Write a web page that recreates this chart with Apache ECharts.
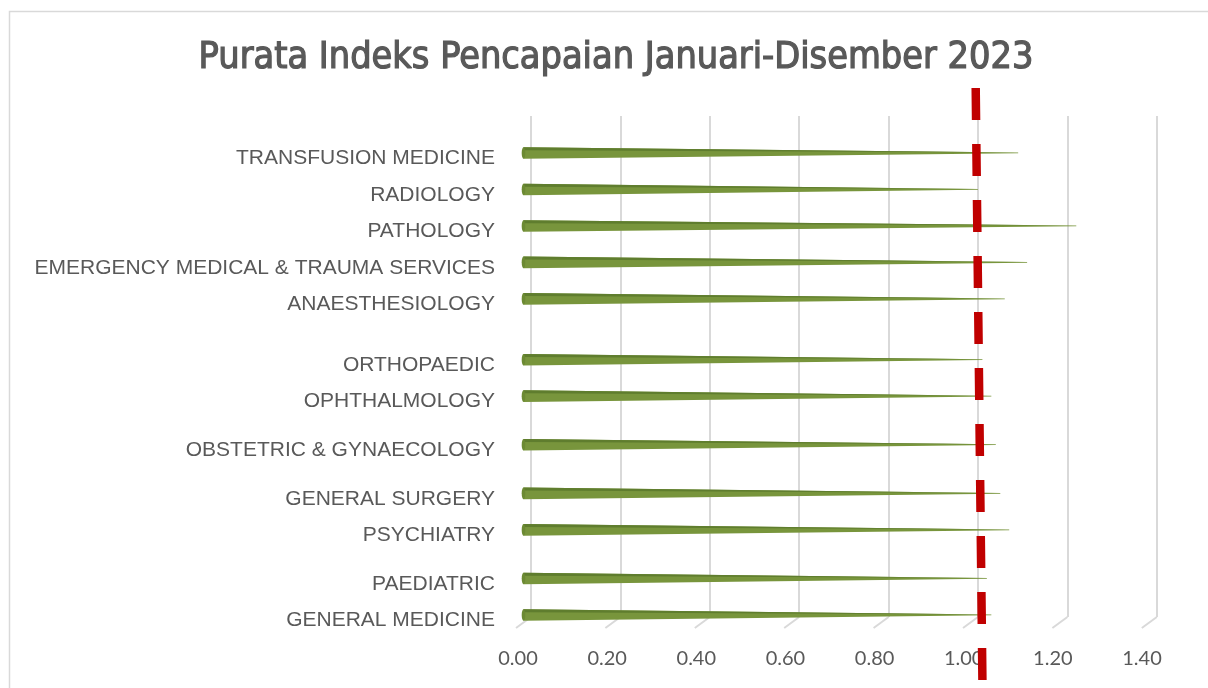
<!DOCTYPE html>
<html>
<head>
<meta charset="utf-8">
<script src="https://cdn.jsdelivr.net/npm/echarts@6/dist/echarts.min.js"></script>
<style>
  html, body { margin: 0; padding: 0; background: #fff; }
  #chart { width: 1208px; height: 688px; }
</style>
</head>
<body>
<div id="chart"></div>
<script>
// data
const categories = [
  'TRANSFUSION MEDICINE',
  'RADIOLOGY',
  'PATHOLOGY',
  'EMERGENCY MEDICAL & TRAUMA SERVICES',
  'ANAESTHESIOLOGY',
  'ORTHOPAEDIC',
  'OPHTHALMOLOGY',
  'OBSTETRIC & GYNAECOLOGY',
  'GENERAL SURGERY',
  'PSYCHIATRY',
  'PAEDIATRIC',
  'GENERAL MEDICINE'
]
const indexValues = [1.11, 1.02, 1.24, 1.13, 1.08, 1.03, 1.05, 1.06, 1.07, 1.09, 1.04, 1.05]
// red dashed target line, value at its top end and at its bottom end (3d slant)
const targetLine = [1.015, 1.03]
const axisMin = 0, axisMax = 1.4, axisStep = 0.2

// layout: spacing between rows, in small slots (the original has uneven gaps)
const rowGaps = [3, 3, 3, 3, 5, 3, 4, 4, 3, 4, 3]

const rowSlot = [0]
rowGaps.forEach((g, i) => rowSlot.push(rowSlot[i] + g))
const slotNames = new Array(rowSlot[rowSlot.length - 1] + 1).fill('')
rowSlot.forEach((s, i) => { slotNames[s] = categories[i] })

const tickValues = []
for (let v = axisMin; v <= axisMax + 1e-9; v += axisStep) tickValues.push(+v.toFixed(2))

const grey = '#595959'
const gridColor = '#d9d9d9'

function renderCone(params, api) {
  const base = api.coord([0, api.value(1)])
  const tip = api.coord([api.value(0), api.value(1)])
  const h = 5.8
  const x0 = base[0] + 1.5
  const c = base[1]
  return {
    type: 'group',
    children: [
      { type: 'polygon', shape: { points: [[x0, c - h], [tip[0], c - 0.5], [tip[0], c + 0.3], [x0, c + h]] },
        style: { fill: '#78953c' } },
      { type: 'polygon', shape: { points: [[x0, c - h], [tip[0], c - 0.5], [x0, c - h + 3]] },
        style: { fill: '#5f7d2e' } },
      { type: 'ellipse', shape: { cx: x0, cy: c, rx: 1.8, ry: h },
        style: { fill: '#6c8a33' } }
    ]
  }
}

function renderFloorTick(params, api) {
  const p = api.coord([api.value(0), 0])
  return {
    type: 'line',
    shape: { x1: p[0], y1: p[1], x2: p[0] - 15, y2: p[1] + 11 },
    style: { stroke: gridColor, lineWidth: 2 }
  }
}

const chart = echarts.init(document.getElementById('chart'))

const option = {
  backgroundColor: '#fff',
  animation: false,
  title: {
    text: 'Purata Indeks Pencapaian Januari-Disember 2023',
    left: 611,
    textAlign: 'center',
    top: 34,
    textStyle: { fontFamily: 'DejaVu Sans Condensed', fontSize: 37.5, fontWeight: 'normal', color: grey,
      textBorderColor: grey, textBorderWidth: 1.2 }
  },
  graphic: [
    { type: 'rect', shape: { x: 9.5, y: 11.5, width: 1210, height: 700 },
      style: { fill: 'none', stroke: gridColor, lineWidth: 1.5 }, silent: true }
  ],
  grid: [
    // back wall gridlines
    { left: 531, right: 51.2, top: 116, bottom: 71 },
    // cones
    { left: 522, right: 60.2, top: 153, bottom: 73 },
    // target line
    { left: 522, right: 60.2, top: 88, bottom: 8 },
    // front axis labels
    { left: 518, right: 66, top: 600, bottom: 48 }
  ],
  xAxis: [
    { gridIndex: 0, type: 'value', min: axisMin, max: axisMax, interval: axisStep,
      axisLine: { show: false }, axisTick: { show: false }, axisLabel: { show: false },
      splitLine: { show: true, lineStyle: { color: gridColor, width: 2 } } },
    { gridIndex: 1, type: 'value', min: axisMin, max: axisMax, interval: axisStep, show: false },
    { gridIndex: 2, type: 'value', min: axisMin, max: axisMax, interval: axisStep, show: false },
    { gridIndex: 3, type: 'value', min: axisMin, max: axisMax, interval: axisStep,
      axisLine: { show: false }, axisTick: { show: false }, splitLine: { show: false },
      axisLabel: { margin: 9, color: grey, fontFamily: 'Lato', fontSize: 20,
        formatter: v => v.toFixed(2) } }
  ],
  yAxis: [
    { gridIndex: 0, type: 'value', min: 0, max: 1, show: false },
    { gridIndex: 1, type: 'category', data: slotNames, inverse: true, boundaryGap: false,
      axisLine: { show: false }, axisTick: { show: false }, splitLine: { show: false },
      axisLabel: { interval: 0, margin: 27,
        formatter: v => v ? '{a|' + v + '}' : '',
        rich: { a: { color: grey, fontFamily: 'Liberation Sans', fontSize: 21, padding: [11, 0, 0, 0] } } } },
    { gridIndex: 2, type: 'value', min: 0, max: 1, show: false },
    { gridIndex: 3, type: 'value', min: 0, max: 1, show: false }
  ],
  series: [
    {
      type: 'custom',
      xAxisIndex: 0, yAxisIndex: 0,
      data: tickValues.map(v => [v]),
      renderItem: renderFloorTick,
      silent: true,
      z: 1
    },
    {
      type: 'custom',
      xAxisIndex: 1, yAxisIndex: 1,
      data: indexValues.map((v, i) => [v, rowSlot[i]]),
      encode: { x: 0, y: 1 },
      renderItem: renderCone,
      z: 3
    },
    {
      type: 'line',
      xAxisIndex: 2, yAxisIndex: 2,
      data: [[targetLine[0], 1], [targetLine[1], 0]],
      symbol: 'none',
      lineStyle: { color: '#c00000', width: 8.5, type: [32, 24], cap: 'butt' },
      silent: true,
      z: 5
    }
  ]
}

chart.setOption(option)
</script>
</body>
</html>
